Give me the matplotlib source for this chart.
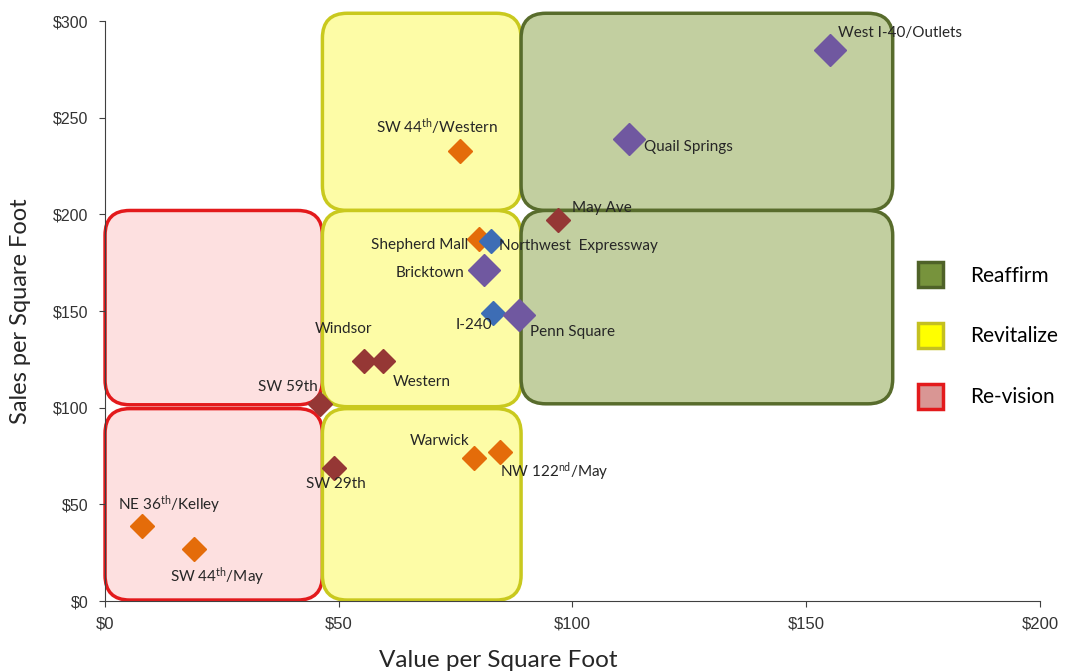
#Importing Modules
import matplotlib
matplotlib.use("Agg")
import matplotlib.pyplot as plt
from matplotlib.patches import FancyBboxPatch
from matplotlib.lines import Line2D

plt.rcParams['font.family'] = ['Lato', 'DejaVu Sans']
plt.rcParams['mathtext.fontset'] = 'custom'
plt.rcParams['mathtext.rm'] = 'Lato'
plt.rcParams['mathtext.it'] = 'Lato:italic'

#Data Values
names = ["West I-40/Outlets", "Quail Springs", "May Ave", "Shepherd Mall",
         "Northwest  Expressway", "Bricktown", "I-240", "Penn Square",
         r"SW 44$^{\rm th}$/Western", "Windsor", "Western", "SW 59th", "SW 29th",
         "Warwick", r"NW 122$^{\rm nd}$/May", r"NE 36$^{\rm th}$/Kelley", r"SW 44$^{\rm th}$/May"]
value = [155, 112, 97, 80, 82.5, 81, 83, 88.5, 76, 55.5, 59.5, 46, 49, 79, 84.5, 8, 19]
sales = [285, 239, 197, 187, 186, 171, 149, 148, 233, 124, 124, 102, 69, 74, 77, 39, 27]
group = ["p", "p", "r", "o", "b", "p", "b", "p", "o", "r", "r", "r", "r", "o", "o", "o", "o"]
xticks = [0, 50, 100, 150, 200]
yticks = [0, 50, 100, 150, 200, 250, 300]

#Label offsets (points) and alignment
offsets = [(6, 12, 'left'), (11, -6, 'left'), (10, 9, 'left'), (-8, -4, 'right'),
           (6, -3, 'left'), (-14, -2, 'right'), (-14, -9, 'center'), (8, -12, 'left'),
           (-17, 17, 'center'), (-15, 23, 'center'), (7, -15, 'left'), (-2, 12, 'right'),
           (1, -12, 'center'), (-25, 12, 'center'), (0, -14, 'left'), (19, 15, 'center'),
           (17, -20, 'center')]

colors = {"p": "#7058a0", "b": "#3d6db5", "o": "#e46c0a", "r": "#953735"}
msizes = {"p": 16, "b": 12, "o": 12, "r": 12}

#Zone boxes: x0, y0, x1, y1, fill, edge
zones = [(0, 101.5, 46.5, 202, "#fde0e0", "#e31a1c"),
         (0, 0.5, 46.5, 99.5, "#fde0e0", "#e31a1c"),
         (46.5, 202, 89, 304, "#fdfca6", "#c9c91e"),
         (46.5, 100.5, 89, 202, "#fdfca6", "#c9c91e"),
         (46.5, 0.5, 89, 99.5, "#fdfca6", "#c9c91e"),
         (89, 202, 168.5, 304, "#c2cfa0", "#586c2c"),
         (89, 102, 168.5, 202, "#c2cfa0", "#586c2c")]

#Graph Styling/Plotting
fig = plt.figure(figsize=(10.73, 6.71), dpi=100)
ax = fig.add_axes([0.0979, 0.1043, 0.8713, 0.8644])
ax.set_xlim(0, 200)
ax.set_ylim(0, 300)

for x0, y0, x1, y1, fc, ec in zones:
    box = FancyBboxPatch((x0, y0), x1 - x0, y1 - y0,
                         boxstyle="round,pad=0,rounding_size=5.3",
                         mutation_aspect=2.42, fc=fc, ec=ec, lw=2.5, zorder=1,
                         clip_on=False)
    ax.add_patch(box)

for i in range(len(names)):
    g = group[i]
    ax.plot(value[i], sales[i], marker='D', color=colors[g], ms=msizes[g],
            mec=colors[g], ls='none', zorder=3)
    dx, dy, ha = offsets[i]
    ax.annotate(names[i], (value[i], sales[i]), textcoords="offset points",
                xytext=(dx, dy), ha=ha, va='center', fontsize=11, color='#262626',
                zorder=4)

#Axes
for s in ['top', 'right']:
    ax.spines[s].set_visible(False)
ax.spines['left'].set_color('#404040')
ax.spines['bottom'].set_color('#404040')
ax.set_xticks(xticks)
ax.set_yticks(yticks)
ax.set_xticklabels([f"${v}" for v in xticks])
ax.set_yticklabels([f"${v}" for v in yticks])
ax.tick_params(direction='out', length=4, color='#404040', labelcolor='#333333',
               labelsize=11.5)
ax.tick_params(axis='x', pad=7, labelsize=12)
ax.tick_params(axis='y', pad=8)
for lab in ax.get_xticklabels() + ax.get_yticklabels():
    lab.set_fontfamily('Liberation Sans')
ax.set_xlabel("Value per Square Foot", fontsize=17.5, color='#262626', labelpad=14)
ax.xaxis.set_label_coords(0.421, -0.085)
ax.set_ylabel("Sales per Square Foot", fontsize=17, color='#262626', labelpad=16)

#Legend
handles = [Line2D([], [], marker='s', ls='none', ms=18, mfc="#77933c", mec="#4f6228", mew=2.5),
           Line2D([], [], marker='s', ls='none', ms=18, mfc="#ffff00", mec="#c4c020", mew=2.5),
           Line2D([], [], marker='s', ls='none', ms=18, mfc="#d99694", mec="#e31a1c", mew=2.5)]
fig.legend(handles, ["Reaffirm", "Revitalize", "Re-vision"], loc='center left',
           bbox_to_anchor=(0.840, 0.499), frameon=False, fontsize=15,
           labelspacing=1.95, handletextpad=0.9, borderaxespad=0)

#Save Graph
fig.savefig("out.png", dpi=100)
